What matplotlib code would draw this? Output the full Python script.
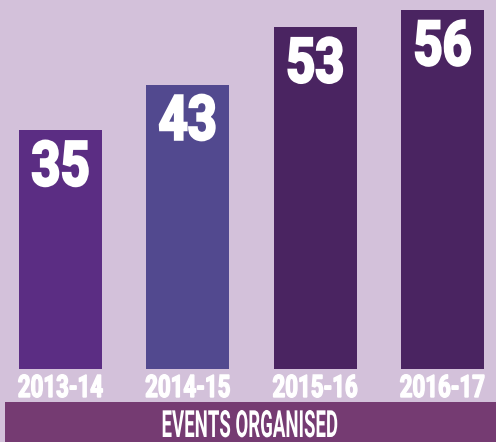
import matplotlib
matplotlib.use("Agg")
from matplotlib import pyplot as plt
import matplotlib.patheffects as pe
from matplotlib.transforms import Affine2D
from matplotlib.patches import Rectangle

years = ["2013-14", "2014-15", "2015-16", "2016-17"]
events = [35, 43, 53, 56]
bar_colors = ["#5b2d83", "#52498f", "#4a2461", "#4a2461"]
title = "EVENTS ORGANISED"

bg = "#d3c1da"
band = "#753b72"
base = -6.6  # the infographic's bars don't start at zero


class Condensed(pe.AbstractPathEffect):
    """Stretch glyphs (sx, sy) about the text's centre/baseline, optionally thicken."""
    def __init__(self, sx, sy=1.0, lw=0):
        super().__init__()
        self.sx, self.sy, self.lw = sx, sy, lw

    def draw_path(self, renderer, gc, tpath, affine, rgbFace=None):
        box = tpath.get_extents()
        cx = (box.x0 + box.x1) / 2
        pre = Affine2D().translate(-cx, 0).scale(self.sx, self.sy).translate(cx, 0)
        gc0 = renderer.new_gc()
        gc0.copy_properties(gc)
        if self.lw:
            gc0.set_linewidth(self.lw)
            gc0.set_foreground(rgbFace)
            gc0.set_joinstyle("miter")
        else:
            gc0.set_linewidth(0)
        renderer.draw_path(gc0, tpath, pre + affine, rgbFace)
        gc0.restore()


font = "Roboto"

fig = plt.figure(figsize=(4.96, 4.42), dpi=100, facecolor=bg)
ax = fig.add_axes([0, 73 / 442, 1, 369 / 442])
ax.set_facecolor(bg)

x = range(len(years))
heights = [v - base for v in events]
ax.bar(x, heights, bottom=base, width=0.652, color=bar_colors, linewidth=0)

ax.set_xlim(-0.475, 3.421)
ax.set_ylim(base, 57.74)
ax.axis("off")

for xi, v in zip(x, events):
    ax.annotate(str(v), xy=(xi, v), xytext=(0, -55 * 0.72), textcoords="offset points",
                ha="center", va="baseline", color="white", fontsize=44.6,
                fontweight="bold", family=font,
                path_effects=[Condensed(0.82, lw=1.8)])

for xi, label in zip(x, years):
    ax.text(xi, (45 - 73) / 369, label, transform=ax.get_xaxis_transform(),
            ha="center", va="baseline", color="white", fontsize=18,
            fontweight="bold", family=font, clip_on=False,
            path_effects=[Condensed(0.89, sy=1.24, lw=1.0)])

fig.add_artist(Rectangle((5 / 496, 0), 1 - 5 / 496, 40 / 442,
                         transform=fig.transFigure, facecolor=band, linewidth=0))
fig.text(250 / 496, 5 / 442, title, ha="center", va="baseline", color="white",
         fontsize=18, fontweight="bold", family=font,
         path_effects=[Condensed(0.745, sy=1.5)])

fig.savefig("out.png", dpi=100, facecolor=bg)
